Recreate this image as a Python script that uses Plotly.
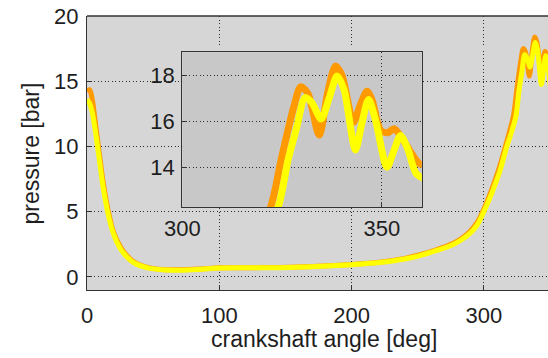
import plotly.graph_objects as go

# Cylinder pressure over one crank revolution, two measured runs
angle_orange = [0, 2, 4, 6, 8.5, 12, 16, 20, 25, 30, 36, 45, 57, 70, 85, 100, 120, 146, 170, 200,
                221, 240, 251, 265, 276, 283, 289, 295, 299, 303, 306.6, 312, 317, 322.2, 325,
                327.9, 329.7, 331.5, 334.3, 336.5, 338.4, 340, 342.9, 344.6, 346.3, 347.6, 349.7,
                351.5, 353.1, 356, 359.4, 362]
pressure_orange = [14.2, 14.35, 13.6, 12.1, 10.1, 7.4, 5.1, 3.45, 2.35, 1.65, 1.12, 0.76, 0.57, 0.55,
                   0.6, 0.7, 0.71, 0.73, 0.8, 0.96, 1.13, 1.42, 1.68, 2.12, 2.55, 2.95, 3.45, 4.2,
                   5.0, 5.95, 6.9, 8.5, 10.3, 12.3, 14.5, 16.6, 17.5, 17.2, 15.4, 17.3, 18.4, 18.0,
                   15.95, 16.7, 17.3, 16.9, 15.6, 15.5, 15.67, 15.0, 14.16, 14.1]

angle_yellow = [0, 2, 4, 6, 8.5, 12, 16, 20, 25, 30, 36, 45, 57, 70, 85, 100, 120, 146, 170, 200,
                221, 240, 251, 265, 276, 283, 289, 295, 299, 303, 306.6, 312, 317, 320.5, 324.1,
                326.5, 328.7, 330.8, 332.5, 334.8, 336.8, 338.8, 340.5, 343.4, 345, 346.7, 348.5,
                351.3, 353, 354.7, 356.5, 358.7, 362]
pressure_yellow = [13.6, 13.3, 12.6, 11.4, 9.6, 7.0, 4.8, 3.3, 2.2, 1.55, 1.05, 0.72, 0.55, 0.52,
                   0.58, 0.68, 0.7, 0.71, 0.78, 0.94, 1.1, 1.38, 1.62, 2.05, 2.45, 2.85, 3.3, 4.0,
                   4.8, 5.7, 6.6, 8.1, 9.9, 11.0, 12.3, 14.3, 15.74, 17.03, 16.8, 16.1, 17.0, 17.97,
                   17.4, 14.75, 15.9, 16.95, 16.0, 14.0, 14.7, 15.38, 14.8, 13.7, 13.4]

main_x_range = [0, 348.4]
main_y_range = [-1, 20]
main_x_ticks = [0, 100, 200, 300]
main_y_ticks = [0, 5, 10, 15, 20]

inset_x_range = [300, 360]
inset_y_range = [12.25, 19]
inset_x_ticks = [300, 350]
inset_y_ticks = [14, 16, 18]

ORANGE = "#ff9900"
YELLOW = "#ffff00"
FRAME = "#333333"
GRID = "#2e2e2e"
TEXT = "#1e1e1e"
FONT = "Liberation Sans, Arial, sans-serif"

fig = go.Figure()

for xa, ya, width in (("x", "y", 5), ("x2", "y2", 7)):
    fig.add_trace(go.Scatter(x=angle_orange, y=pressure_orange, mode="lines",
                             line=dict(color=ORANGE, width=width, shape="spline", smoothing=0.8),
                             xaxis=xa, yaxis=ya, showlegend=False, hoverinfo="skip"))
    fig.add_trace(go.Scatter(x=angle_yellow, y=pressure_yellow, mode="lines",
                             line=dict(color=YELLOW, width=width, shape="spline", smoothing=0.8),
                             xaxis=xa, yaxis=ya, showlegend=False, hoverinfo="skip"))

axis_common = dict(showgrid=True, gridcolor=GRID, gridwidth=1, griddash="1px,2.5px",
                   zeroline=False, showline=True, linecolor=FRAME, linewidth=1.3,
                   ticks="inside", ticklen=5, tickcolor=FRAME,
                   tickfont=dict(family=FONT, size=22, color=TEXT))

fig.update_layout(
    width=548, height=358,
    margin=dict(l=87, r=0, t=16, b=68),
    paper_bgcolor="white",
    plot_bgcolor="#d6d6d6",
    xaxis=dict(range=main_x_range, tickvals=main_x_ticks, domain=[0, 1], anchor="y",
               ticklabelstandoff=5, **axis_common),
    yaxis=dict(range=main_y_range, tickvals=main_y_ticks, domain=[0, 1], anchor="x",
               ticklabelstandoff=3, **axis_common),
    xaxis2=dict(range=inset_x_range, tickvals=inset_x_ticks, domain=[0.2067, 0.726],
                anchor="y2", mirror=True, ticklabelstandoff=1, **axis_common),
    yaxis2=dict(range=inset_y_range, tickvals=inset_y_ticks, domain=[0.3018, 0.8675],
                anchor="x2", mirror=True, ticklabelstandoff=2, **axis_common),
    shapes=[
        # inset panel background, drawn inside the inset subplot so it hides the main grid
        dict(type="rect", xref="x2", yref="y2",
             x0=inset_x_range[0], x1=inset_x_range[1], y0=inset_y_range[0], y1=inset_y_range[1],
             fillcolor="#c8c8c8", line=dict(width=0), layer="below"),
        # top edge of the main frame
        dict(type="line", xref="paper", yref="paper", x0=0, x1=1, y0=1, y1=1,
             line=dict(color=FRAME, width=1.3), layer="above"),
    ],
    annotations=[
        dict(text="crankshaft angle [deg]", xref="paper", yref="paper", x=0.514, y=-0.179,
             xanchor="center", yanchor="middle", showarrow=False,
             font=dict(family=FONT, size=23, color=TEXT)),
        dict(text="pressure [bar]", xref="paper", yref="paper", x=-0.1215, y=0.498,
             xanchor="center", yanchor="middle", textangle=-90, showarrow=False,
             font=dict(family=FONT, size=23, color=TEXT)),
    ],
)

fig.write_html("out.html")
